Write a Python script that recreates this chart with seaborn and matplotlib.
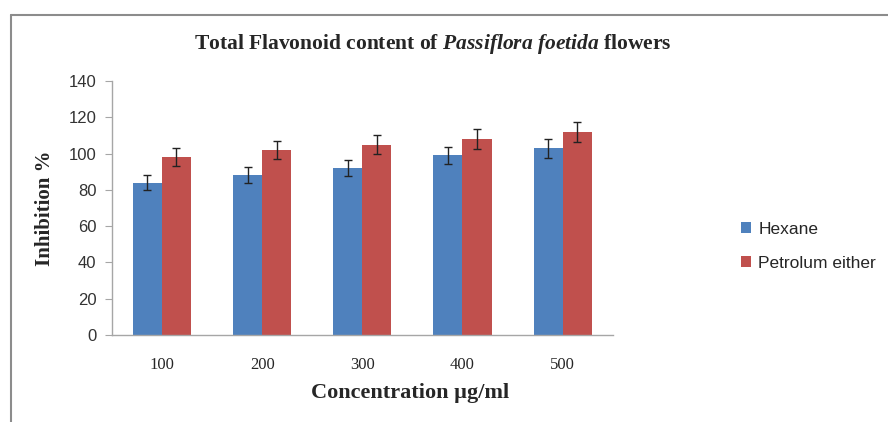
import pandas as pd
import matplotlib.pyplot as plt
import seaborn as sns
from matplotlib.lines import Line2D

concentrations = ['100', '200', '300', '400', '500']
hexane = [84, 88, 92, 99, 103]
hexane_err = [4.2, 4.4, 4.6, 4.9, 5.2]
petrol = [98, 102, 105, 108, 112]
petrol_err = [4.9, 5.1, 5.3, 5.4, 5.6]
series_names = ['Hexane', 'Petrolum either']

df = pd.DataFrame({
    'conc': concentrations * 2,
    'value': hexane + petrol,
    'err': hexane_err + petrol_err,
    'series': [series_names[0]] * 5 + [series_names[1]] * 5,
})

sns.set_style('white')
plt.rcParams['mathtext.fontset'] = 'custom'
plt.rcParams['mathtext.rm'] = 'Liberation Serif'
plt.rcParams['mathtext.it'] = 'Liberation Serif:italic'
plt.rcParams['mathtext.bf'] = 'Liberation Serif:bold'
plt.rcParams['mathtext.bfit'] = 'Liberation Serif:italic:bold'

fig = plt.figure(figsize=(8.88, 4.22), dpi=100)
ax = fig.add_axes([0.126, 0.206, 0.564, 0.602])

palette = {'Hexane': '#4F81BD', 'Petrolum either': '#C0504D'}
sns.barplot(data=df, x='conc', y='value', hue='series', palette=palette,
            width=0.58, saturation=1, linewidth=0, ax=ax, errorbar=None)

# error bars at the centres of the drawn bars
for cont, name in zip(ax.containers, series_names):
    sub = df[df.series == name]
    xs = [p.get_x() + p.get_width() / 2 for p in cont.patches]
    ax.errorbar(xs, sub['value'], yerr=sub['err'], fmt='none',
                ecolor='#222222', elinewidth=1, capsize=3, capthick=1)

ax.set_ylim(0, 140)
ax.set_yticks(range(0, 141, 20))
ax.set_xlim(-0.5, 4.5)
for s in ['top', 'right']:
    ax.spines[s].set_visible(False)
for s in ['left', 'bottom']:
    ax.spines[s].set_color('#a6a6a6')
    ax.spines[s].set_linewidth(1)
ax.tick_params(axis='y', left=True, length=5, color='#a6a6a6', labelsize=12,
               labelcolor='#333333', pad=6)
ax.tick_params(axis='x', bottom=False, labelsize=12, pad=12)
for lab in ax.get_yticklabels():
    lab.set_family('Liberation Sans')
for lab in ax.get_xticklabels():
    lab.set_family('Liberation Serif')

ax.set_xlabel('Concentration µg/ml', family='Liberation Serif', fontweight='bold',
              fontsize=16)
ax.xaxis.set_label_coords(0.595, -0.19)
ax.set_ylabel('Inhibition %', family='Liberation Serif', fontweight='bold',
              fontsize=15, labelpad=10)

fig.text(0.487, 0.895,
         r'Total Flavonoid content of $\mathbfit{Passiflora\ foetida}$ flowers',
         ha='center', va='center', family='Liberation Serif', fontweight='bold',
         fontsize=15.5)

ax.legend(loc='center left', bbox_to_anchor=(1.225, 0.35), frameon=False,
          prop={'family': 'Liberation Sans', 'size': 12.5}, handlelength=0.6,
          handleheight=0.6, handletextpad=0.4, labelspacing=1.1)

# chart frame
fig.add_artist(Line2D([0.012, 0.012], [0, 0.965], color='#8c8c8c', lw=1.5,
                      transform=fig.transFigure))
fig.add_artist(Line2D([0.012, 1], [0.965, 0.965], color='#8c8c8c', lw=1.5,
                      transform=fig.transFigure))

fig.savefig('out.png', dpi=100)
